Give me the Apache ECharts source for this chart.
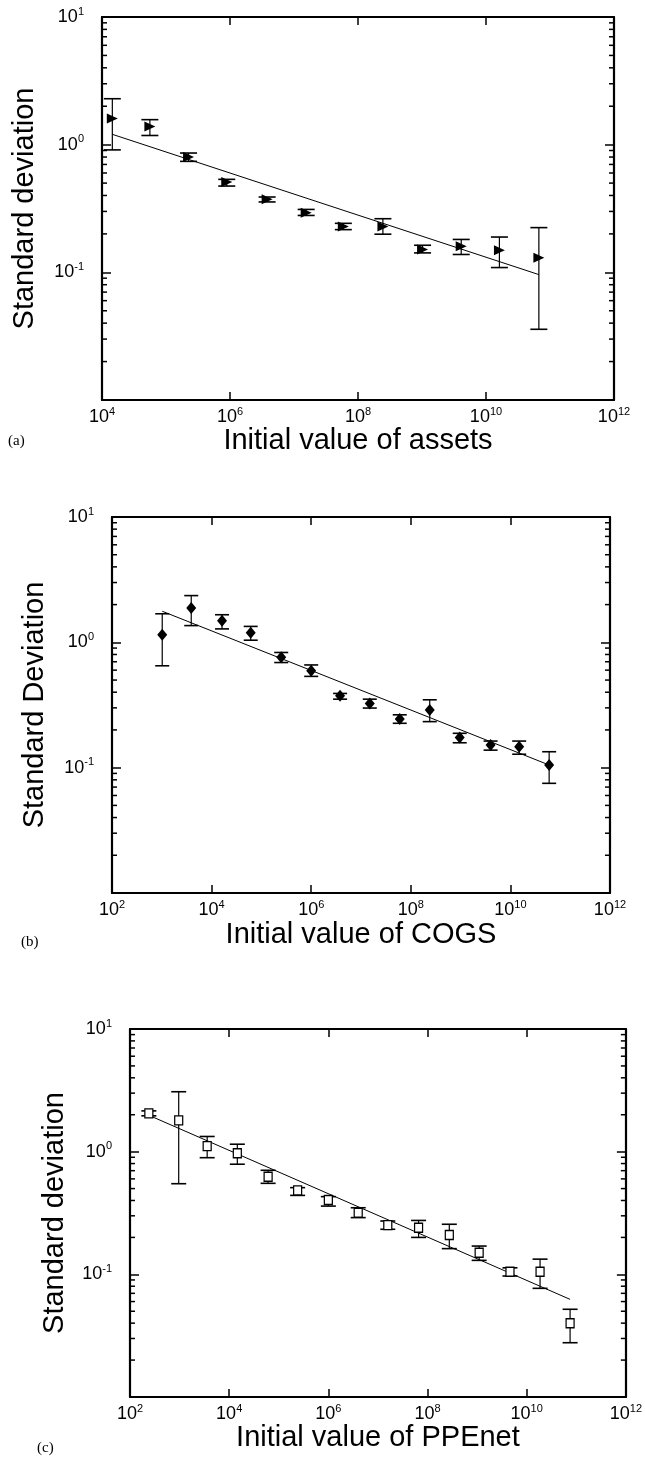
<!DOCTYPE html>
<html>
<head>
<meta charset="utf-8">
<script src="https://cdn.jsdelivr.net/npm/echarts@6/dist/echarts.min.js"></script>
<style>
html,body{margin:0;padding:0;background:#fff;}
#chart{width:645px;height:1460px;}
</style>
</head>
<body>
<div id="chart"></div>
<script>
// ---------- data ----------
// Panel (a): assets
const aX  = [1.45e4, 5.6e4, 2.25e5, 8.9e5, 3.8e6, 1.55e7, 5.9e7, 2.45e8, 1.02e9, 4.1e9, 1.62e10, 6.7e10];
const aY  = [1.60, 1.39, 0.80, 0.51, 0.373, 0.293, 0.229, 0.229, 0.151, 0.160, 0.149, 0.130];
const aHi = [2.29, 1.57, 0.86, 0.535, 0.389, 0.311, 0.242, 0.263, 0.163, 0.181, 0.189, 0.224];
const aLo = [0.91, 1.18, 0.74, 0.474, 0.356, 0.279, 0.216, 0.199, 0.142, 0.138, 0.109, 0.0358];
const aFitX = [1.45e4, 6.7e10];
const aFitY = [1.205, 0.096];

// Panel (b): COGS
const bX  = [1.02e3, 3.9e3, 1.62e4, 6.1e4, 2.5e5, 1.0e6, 3.8e6, 1.5e7, 6.0e7, 2.4e8, 9.6e8, 4.0e9, 1.5e10, 6.0e10];
const bY  = [1.15, 1.88, 1.49, 1.19, 0.76, 0.593, 0.374, 0.325, 0.244, 0.289, 0.174, 0.152, 0.147, 0.105];
const bHi = [1.69, 2.36, 1.66, 1.34, 0.83, 0.66, 0.391, 0.352, 0.264, 0.348, 0.188, 0.163, 0.163, 0.134];
const bLo = [0.65, 1.36, 1.28, 1.04, 0.69, 0.535, 0.352, 0.299, 0.226, 0.233, 0.158, 0.138, 0.128, 0.075];
const bFitX = [1.02e3, 6.0e10];
const bFitY = [1.77, 0.105];

// Panel (c): PPEnet
const cX  = [2.4e2, 9.6e2, 3.6e3, 1.46e4, 6.1e4, 2.4e5, 1.0e6, 4.0e6, 1.58e7, 6.6e7, 2.75e8, 1.1e9, 4.6e9, 1.86e10, 7.5e10];
const cY  = [2.05, 1.80, 1.11, 0.97, 0.625, 0.484, 0.404, 0.318, 0.252, 0.240, 0.209, 0.150, 0.105, 0.105, 0.0399];
const cHi = [2.15, 3.08, 1.33, 1.15, 0.705, 0.509, 0.430, 0.349, 0.272, 0.275, 0.256, 0.170, 0.113, 0.133, 0.0519];
const cLo = [1.96, 0.548, 0.893, 0.79, 0.552, 0.44, 0.36, 0.29, 0.233, 0.20, 0.162, 0.130, 0.0969, 0.0769, 0.0277];
const cFitX = [2.4e2, 7.5e10];
const cFitY = [1.98, 0.0625];

// axes ranges and tick labels
const aXRange = [1e4, 1e12];
const bcXRange = [1e2, 1e12];
const yRange = [1e-2, 1e1];
const aXTicks = [1e4, 1e6, 1e8, 1e10, 1e12];
const bcXTicks = [1e2, 1e4, 1e6, 1e8, 1e10, 1e12];
const yLabelTicks = [1e1, 1e0, 1e-1];
const yMinorTicks = [0.02,0.03,0.04,0.05,0.06,0.07,0.08,0.09,0.2,0.3,0.4,0.5,0.6,0.7,0.8,0.9,2,3,4,5,6,7,8,9];

const xTitles = ['Initial value of assets', 'Initial value of COGS', 'Initial value of PPEnet'];
const yTitles = ['Standard deviation', 'Standard Deviation', 'Standard deviation'];
const panelTags = ['(a)', '(b)', '(c)'];

// ---------- styling ----------
const FONT = 'Liberation Sans, Arial, Helvetica, sans-serif';
const SERIF = 'Liberation Serif, Times New Roman, serif';
const INK = '#000';

function supFmt(v) {
  const e = Math.round(Math.log10(v));
  return '{b|10}{s|' + e + '}';
}
const richLbl = {
  b: { fontSize: 18, fontFamily: FONT, color: INK, lineHeight: 22 },
  s: { fontSize: 11, fontFamily: FONT, color: INK, lineHeight: 22, verticalAlign: 'top' }
};

const grids = [
  { left: 102, top: 17, width: 512, height: 383 },
  { left: 112, top: 517, width: 498, height: 376 },
  { left: 130, top: 1029, width: 497, height: 368 }
];
const xRanges = [aXRange, bcXRange, bcXRange];
const xTickSets = [aXTicks, bcXTicks, bcXTicks];
const nameGapsX = [23, 27, 25];
const nameGapsY = [63, 63, 61];

const panels = [
  { x: aX, y: aY, hi: aHi, lo: aLo, fx: aFitX, fy: aFitY, symbol: 'triangle', rotate: -90, size: [10, 11], fill: INK, cap: 8.5 },
  { x: bX, y: bY, hi: bHi, lo: bLo, fx: bFitX, fy: bFitY, symbol: 'diamond', rotate: 0, size: [10, 12], fill: INK, cap: 7 },
  { x: cX, y: cY, hi: cHi, lo: cLo, fx: cFitX, fy: cFitY, symbol: 'rect', rotate: 0, size: [8, 9], fill: '#fff', cap: 7.5 }
];

const option = { backgroundColor: '#fff', animation: false, grid: [], xAxis: [], yAxis: [], series: [], graphic: [] };

panels.forEach((p, i) => {
  option.grid.push(Object.assign({ containLabel: false }, grids[i]));
  const lineStyle = { color: INK, width: 2.2 };
  // bottom x
  option.xAxis.push({
    type: 'log', logBase: 10, gridIndex: i, position: 'bottom',
    min: xRanges[i][0], max: xRanges[i][1],
    name: xTitles[i], nameLocation: 'middle', nameGap: nameGapsX[i],
    nameTextStyle: { fontFamily: FONT, fontSize: 29, color: INK },
    axisLine: { show: true, onZero: false, lineStyle },
    axisTick: { show: true, inside: true, length: 8, customValues: xTickSets[i], lineStyle: { color: INK, width: 1.5 } },
    axisLabel: { show: true, margin: 6, customValues: xTickSets[i], formatter: supFmt, rich: richLbl },
    splitLine: { show: false }, minorTick: { show: false }
  });
  // top x (frame)
  option.xAxis.push({
    type: 'log', logBase: 10, gridIndex: i, position: 'top',
    min: xRanges[i][0], max: xRanges[i][1],
    axisLine: { show: true, onZero: false, lineStyle },
    axisTick: { show: true, inside: true, length: 8, customValues: xTickSets[i], lineStyle: { color: INK, width: 1.5 } },
    axisLabel: { show: false }, splitLine: { show: false }
  });
  // left y
  option.yAxis.push({
    type: 'log', logBase: 10, gridIndex: i, position: 'left',
    min: yRange[0], max: yRange[1],
    name: yTitles[i], nameLocation: 'middle', nameGap: nameGapsY[i], nameRotate: 90,
    nameTextStyle: { fontFamily: FONT, fontSize: 29, color: INK },
    axisLine: { show: true, onZero: false, lineStyle },
    axisTick: { show: true, inside: true, length: 9, lineStyle: { color: INK, width: 1.5 } },
    axisLabel: { show: true, margin: 18, customValues: yLabelTicks, formatter: supFmt, rich: richLbl },
    splitLine: { show: false }
  });
  // right y (frame)
  option.yAxis.push({
    type: 'log', logBase: 10, gridIndex: i, position: 'right',
    min: yRange[0], max: yRange[1],
    axisLine: { show: true, onZero: false, lineStyle },
    axisTick: { show: true, inside: true, length: 9, lineStyle: { color: INK, width: 1.5 } },
    axisLabel: { show: false }, splitLine: { show: false }
  });

  const xi = 2 * i, yi = 2 * i;

  // minor log ticks on the left and right edges
  option.series.push({
    type: 'custom', xAxisIndex: xi, yAxisIndex: yi, silent: true, z: 3,
    data: yMinorTicks.map(v => [xRanges[i][0], v]),
    renderItem: (params, api) => {
      const cs = params.coordSys;
      const pt = api.coord([api.value(0), api.value(1)]);
      const y = pt[1];
      const st = { stroke: INK, lineWidth: 1.5 };
      return { type: 'group', children: [
        { type: 'line', shape: { x1: cs.x, y1: y, x2: cs.x + 5, y2: y }, style: st },
        { type: 'line', shape: { x1: cs.x + cs.width - 5, y1: y, x2: cs.x + cs.width, y2: y }, style: st }
      ]};
    }
  });

  // fit line
  option.series.push({
    type: 'line', xAxisIndex: xi, yAxisIndex: yi, symbol: 'none', z: 2,
    data: p.fx.map((v, k) => [v, p.fy[k]]),
    lineStyle: { color: INK, width: 1 }
  });

  // error bars
  const cap = p.cap;
  option.series.push({
    type: 'custom', xAxisIndex: xi, yAxisIndex: yi, silent: true, z: 3,
    data: p.x.map((v, k) => [v, p.lo[k], p.hi[k]]),
    encode: { x: 0, y: [1, 2] },
    renderItem: (params, api) => {
      const x = api.value(0);
      const top = api.coord([x, api.value(2)]);
      const bot = api.coord([x, api.value(1)]);
      const st = { stroke: INK, lineWidth: 1.2 };
      const stc = { stroke: INK, lineWidth: 1.6 };
      return { type: 'group', children: [
        { type: 'line', shape: { x1: top[0], y1: top[1], x2: bot[0], y2: bot[1] }, style: st },
        { type: 'line', shape: { x1: top[0] - cap, y1: top[1], x2: top[0] + cap, y2: top[1] }, style: stc },
        { type: 'line', shape: { x1: bot[0] - cap, y1: bot[1], x2: bot[0] + cap, y2: bot[1] }, style: stc }
      ]};
    }
  });

  // markers
  option.series.push({
    type: 'scatter', xAxisIndex: xi, yAxisIndex: yi, z: 5,
    symbol: p.symbol, symbolRotate: p.rotate, symbolSize: p.size,
    data: p.x.map((v, k) => [v, p.y[k]]),
    itemStyle: { color: p.fill, borderColor: INK, borderWidth: p.fill === INK ? 0 : 1.3, opacity: 1 }
  });
});

const tagPos = [[8, 443], [21, 944], [37, 1450]];
panelTags.forEach((t, i) => {
  option.graphic.push({
    type: 'text', left: tagPos[i][0], top: tagPos[i][1] - 9,
    style: { text: t, fontFamily: SERIF, fontSize: 15, fill: INK }
  });
});

const chart = echarts.init(document.getElementById('chart'), null, { renderer: 'canvas' });
chart.setOption(option);
</script>
</body>
</html>
